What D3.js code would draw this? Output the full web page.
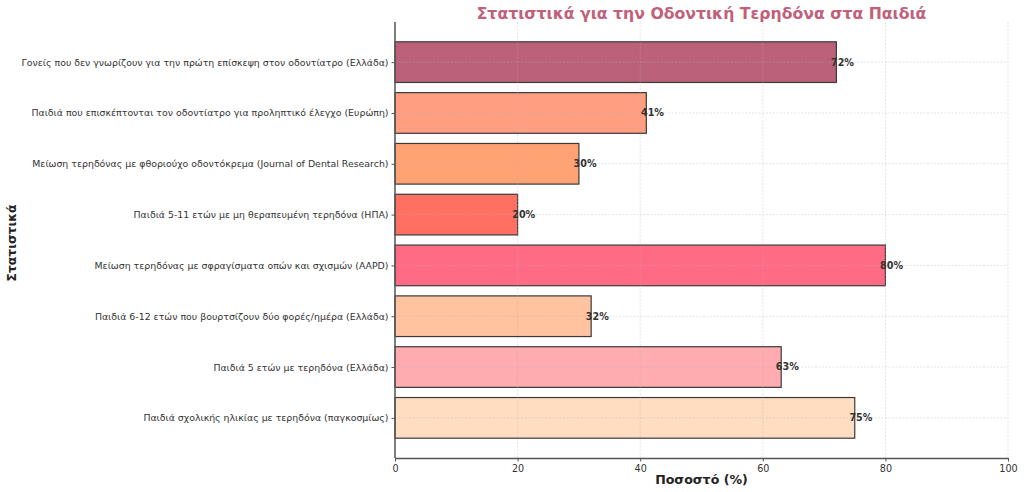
<!DOCTYPE html>
<html><head><meta charset="utf-8">
<script src="https://cdn.jsdelivr.net/npm/d3@7"></script>
<style>body{margin:0;background:#fff;} text{font-family:"DejaVu Sans",sans-serif;}</style>
</head><body>
<svg id="c" width="1024" height="492"></svg>
<script>
const categories = [
  "Παιδιά σχολικής ηλικίας με τερηδόνα (παγκοσμίως)",
  "Παιδιά 5 ετών με τερηδόνα (Ελλάδα)",
  "Παιδιά 6-12 ετών που βουρτσίζουν δύο φορές/ημέρα (Ελλάδα)",
  "Μείωση τερηδόνας με σφραγίσματα οπών και σχισμών (AAPD)",
  "Παιδιά 5-11 ετών με μη θεραπευμένη τερηδόνα (ΗΠΑ)",
  "Μείωση τερηδόνας με φθοριούχο οδοντόκρεμα (Journal of Dental Research)",
  "Παιδιά που επισκέπτονται τον οδοντίατρο για προληπτικό έλεγχο (Ευρώπη)",
  "Γονείς που δεν γνωρίζουν για την πρώτη επίσκεψη στον οδοντίατρο (Ελλάδα)"
];
const values = [75, 63, 32, 80, 20, 30, 41, 72];
const colors = ["#ffdcbf", "#ffa9ad", "#ffc19d", "#ff6680", "#ff6b5e", "#ffa070", "#ff9b7c", "#b95c75"];
const xTicks = [0, 20, 40, 60, 80, 100];

const svg = d3.select("#c");
const L = 395, R = 1008, T = 22, B = 458;
const x = d3.scaleLinear().domain([0, 100]).range([L, R]);
const y = d3.scaleLinear().domain([-0.79, 7.79]).range([B, T]);
const bh = (y(0) - y(0.8));

// bars
svg.append("g").selectAll("rect").data(values).join("rect")
  .attr("x", x(0)).attr("y", (d, i) => y(i) - bh / 2)
  .attr("width", d => x(d) - x(0)).attr("height", bh)
  .attr("fill", (d, i) => colors[i]).attr("fill-opacity", 0.97)
  .attr("stroke", "#3a3a3a").attr("stroke-width", 1.2);

// grid (drawn faintly over bars, as in the reference)
svg.append("g").selectAll("line").data(xTicks).join("line")
  .attr("x1", d => x(d)).attr("x2", d => x(d)).attr("y1", T).attr("y2", B)
  .attr("stroke", "#b0b0b0").attr("stroke-opacity", 0.45).attr("stroke-width", 0.8).attr("stroke-dasharray", "2,1.5");
svg.append("g").selectAll("line").data(categories).join("line")
  .attr("x1", L).attr("x2", R).attr("y1", (d, i) => y(i)).attr("y2", (d, i) => y(i))
  .attr("stroke", "#b0b0b0").attr("stroke-opacity", 0.45).attr("stroke-width", 0.8).attr("stroke-dasharray", "2,1.5");

// value labels
svg.append("g").selectAll("text").data(values).join("text")
  .attr("x", d => x(d + 1)).attr("y", (d, i) => y(i)).attr("dy", "0.35em")
  .attr("text-anchor", "middle").attr("font-size", 9.6).attr("font-weight", "bold")
  .attr("fill", "#333").text(d => d + "%");

// axes
const xa = svg.append("g").attr("transform", `translate(0,${B})`)
  .call(d3.axisBottom(x).tickValues(xTicks).tickSize(3.5).tickSizeOuter(0));
xa.select(".domain").attr("stroke", "#555").attr("stroke-width", 1.5);
xa.selectAll(".tick line").attr("stroke", "#555");
xa.selectAll(".tick text").attr("font-size", 9.6).attr("fill", "#333").attr("dy", "0.8em")
  .style("font-family", "DejaVu Sans");

const ya = svg.append("g").attr("transform", `translate(${L},0)`)
  .call(d3.axisLeft(y).tickValues(d3.range(categories.length)).tickFormat(i => categories[i]).tickSize(3.5).tickSizeOuter(0));
ya.select(".domain").attr("stroke", "#555").attr("stroke-width", 1.5)
  .attr("d", `M0,${T}V${B}`);
ya.selectAll(".tick line").attr("stroke", "#555");
ya.selectAll(".tick text").attr("font-size", 9.4).attr("fill", "#333")
  .style("font-family", "DejaVu Sans");

// titles
svg.append("text").attr("x", (L + R) / 2).attr("y", 19).attr("text-anchor", "middle")
  .attr("font-size", 15.7).attr("font-weight", "bold").attr("fill", "#c0607a")
  .text("Στατιστικά για την Οδοντική Τερηδόνα στα Παιδιά");
svg.append("text").attr("x", (L + R) / 2).attr("y", 484).attr("text-anchor", "middle")
  .attr("font-size", 12.6).attr("font-weight", "bold").attr("fill", "#222")
  .text("Ποσοστό (%)");
svg.append("text").attr("transform", `translate(16,${(T + B) / 2 + 3}) rotate(-90)`)
  .attr("text-anchor", "middle").attr("font-size", 12.3).attr("font-weight", "bold").attr("fill", "#222")
  .text("Στατιστικά");
</script>
</body></html>
